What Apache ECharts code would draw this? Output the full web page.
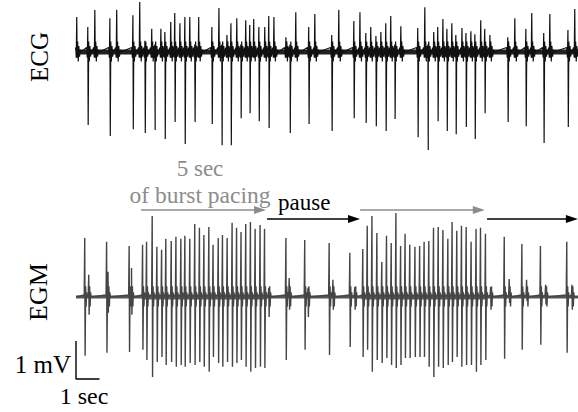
<!DOCTYPE html>
<html>
<head>
<meta charset="utf-8">
<script src="https://cdn.jsdelivr.net/npm/echarts@6/dist/echarts.min.js"></script>
<style>html,body{margin:0;padding:0;background:#fff;}#c{width:578px;height:412px;}</style>
</head>
<body>
<div id="c"></div>
<script>
// ---- Data (time in seconds, amplitude in mV) ----
const tMax = 21.36;

// ECG complexes: time, upward peak, downward trough (0 = no trough)
const ecgT = [0.04,0.51,0.81,1.45,1.74,2.43,2.72,2.94,3.23,3.36,3.62,3.79,4.04,4.21,4.43,4.64,4.85,5.06,5.23,5.79,6.09,6.21,6.43,6.60,6.85,7.02,7.23,7.40,7.57,7.79,8.04,8.21,8.43,8.94,9.11,9.36,9.91,10.17,10.89,11.19,11.83,12.09,12.34,12.55,12.77,12.98,13.19,13.40,13.57,13.83,14.55,14.85,14.98,15.23,15.40,15.62,15.79,16.00,16.17,16.43,16.60,16.81,16.98,17.23,17.40,17.62,18.38,18.68,19.15,19.40,19.91,20.17,20.94,21.23];
const ecgUp = [0.92,0.66,1.11,0.89,1.11,0.97,1.32,0.30,0.61,0.20,0.61,0.53,0.79,1.03,0.76,0.92,0.92,0.20,0.92,0.66,1.16,0.20,0.45,0.76,0.89,0.20,0.84,0.71,0.87,0.66,0.66,0.95,0.92,0.39,0.20,1.05,0.66,1.00,0.45,1.11,0.82,1.05,0.50,0.66,0.42,0.53,0.76,0.95,0.20,0.68,0.63,1.18,0.20,0.53,0.66,0.87,0.61,0.76,0.45,0.63,0.50,0.55,0.47,0.84,0.61,0.45,0.39,0.89,0.61,1.03,0.50,1.00,0.58,1.13];
const ecgDown = [0,-1.92,0,-2.21,0,-2.03,0,-2.13,0,-2.05,0,-2.29,0,-1.84,0,-2.42,0,-1.84,0,-1.89,0,-2.45,0,-2.45,0,-1.74,0,-1.61,0,-1.82,0,-2.00,0,0,-2.13,0,-1.89,0,-2.08,0,-1.74,0,-1.87,0,-1.95,0,-2.08,0,-1.76,0,-2.24,0,-2.58,0,-1.82,0,-2.08,0,-2.16,0,-1.97,0,-2.29,0,-1.61,0,-1.84,0,-1.95,0,-2.39,0,-1.97,0];

// EGM deflections: time, upward peak, downward trough
const egmT = [0.38,0.55,1.31,1.37,2.27,2.37,
  2.84,3.01,3.25,3.45,3.65,3.83,4.06,4.26,4.47,4.64,4.85,5.06,5.26,5.45,5.66,5.84,6.06,6.24,6.44,6.65,6.84,7.03,7.23,7.43,7.63,7.84,8.03,
  8.21,8.94,9.08,9.74,9.88,10.78,10.94,11.66,11.87,
  12.21,12.40,12.60,12.81,13.02,13.22,13.42,13.62,13.82,14.01,14.21,14.43,14.63,14.82,15.02,15.22,15.42,15.62,15.83,16.01,16.21,16.41,16.61,16.82,17.03,17.22,17.43,
  17.65,18.23,18.44,18.98,19.18,19.77,19.99,20.89,21.11];
const egmUp = [1.55,0.58,1.45,0.66,1.34,0.76,
  1.37,1.45,2.13,1.32,1.24,1.53,1.47,1.58,1.53,1.61,1.53,1.92,1.82,1.63,1.84,1.37,1.55,1.63,1.55,1.95,1.82,1.71,1.92,1.97,1.79,1.89,1.79,
  0.24,1.55,0.50,1.50,0.24,1.42,0.45,1.16,0.26,
  1.26,1.87,2.13,1.68,0.92,1.61,1.42,2.21,1.34,1.66,1.37,1.32,1.34,1.45,1.47,1.82,1.84,1.76,1.53,1.97,1.74,1.87,1.84,1.45,1.79,1.82,1.66,
  0.26,1.58,0.47,1.39,0.45,1.34,0.32,1.45,0.32];
const egmDown = [-1.55,-0.47,-1.47,-0.42,-1.45,-0.47,
  -1.39,-1.66,-2.11,-1.71,-1.58,-1.79,-1.71,-1.84,-1.79,-1.84,-1.74,-1.79,-1.71,-1.84,-1.97,-1.58,-1.74,-1.84,-1.71,-1.84,-1.74,-1.66,-1.84,-1.97,-1.87,-1.84,-1.87,
  -0.53,-1.66,-0.34,-1.39,-0.53,-1.53,-0.34,-1.32,-0.34,
  -1.58,-1.39,-1.97,-1.66,-1.74,-1.61,-1.79,-1.87,-1.79,-1.61,-1.61,-1.58,-1.58,-1.58,-1.84,-2.11,-1.84,-1.87,-1.79,-1.71,-1.58,-1.84,-1.79,-1.79,-1.97,-1.79,-1.66,
  -0.34,-1.63,-0.16,-1.39,-0.10,-1.26,-0.20,-1.47,-0.34];

// burst pacing windows (s) and annotation arrows [from, to] in seconds
const burstWindows = [[2.80, 8.10], [12.15, 17.50]];
const burstArrows = [[2.77, 8.09], [12.09, 17.40]];
const pauseArrows = [[8.13, 12.09], [17.49, 21.36]];
const scaleBar = { mV: 1, sec: 1 };

// waveform shapes around each deflection: [dt (s), value or U/D]
const ecgShape = [[-0.06,0.12],[-0.03,-0.15],[-0.008,'U'],[0.008,'D'],[0.03,0.28],[0.055,-0.25],[0.08,0.16],[0.11,-0.12],[0.14,0.06],[0.17,0]];
const egmShape = [[-0.03,0.05],[-0.008,'U'],[0.008,'D'],[0.03,0.28],[0.05,-0.25],[0.07,0.12],[0.09,0]];

function buildTrace(T, U, D, shape, fallback) {
  const pts = [[0, 0]];
  for (let i = 0; i < T.length; i++) {
    for (const [dt, v] of shape) {
      let val = v === 'U' ? U[i] : v === 'D' ? (D[i] || fallback) : v;
      pts.push([T[i] + dt, val]);
    }
  }
  pts.push([tMax, 0]);
  pts.sort((a, b) => a[0] - b[0]);
  return pts;
}

const ecgData = buildTrace(ecgT, ecgUp, ecgDown, ecgShape, -0.15);
const egmData = buildTrace(egmT, egmUp, egmDown, egmShape, -0.1);
const burstBand = [];
burstWindows.forEach((w, i) => { if (i) burstBand.push([w[0] - 0.5, '-']); burstBand.push([w[0], 0], [w[1], 0]); });

const arrowY1 = 2.29, arrowY2 = 2.05, headBack = 0.26;
const grey = '#8c8c8c';
const markData = [];
burstArrows.forEach(a => markData.push([{coord:[a[0], arrowY1], lineStyle:{color:grey}}, {coord:[a[1]-headBack, arrowY1]}]));
pauseArrows.forEach(a => markData.push([{coord:[a[0], arrowY2], lineStyle:{color:'#000'}}, {coord:[a[1]-headBack, arrowY2]}]));

const serif = '"Liberation Serif", "DejaVu Serif", serif';
const chart = echarts.init(document.getElementById('c'), null, {renderer: 'svg'});
chart.setOption({
  animation: false,
  backgroundColor: '#fff',
  grid: [
    {left: 76, right: 0, top: 0, height: 152},
    {left: 76, right: 0, top: 200, height: 190}
  ],
  xAxis: [
    {type: 'value', gridIndex: 0, min: 0, max: tMax, show: false},
    {type: 'value', gridIndex: 1, min: 0, max: tMax, show: false}
  ],
  yAxis: [
    {type: 'value', gridIndex: 0, min: -2.63, max: 1.37, show: false},
    {type: 'value', gridIndex: 1, min: -2.45, max: 2.55, show: false}
  ],
  series: [
    {type: 'line', xAxisIndex: 0, yAxisIndex: 0, data: [[0,0],[tMax,0]], showSymbol: false, lineStyle: {color: '#222', width: 5}, silent: true},
    {type: 'line', xAxisIndex: 0, yAxisIndex: 0, data: ecgData, showSymbol: false, sampling: null, lineStyle: {color: '#111', width: 1.2}, silent: true},
    {type: 'line', xAxisIndex: 1, yAxisIndex: 1, data: [[0,0],[tMax,0]], showSymbol: false, lineStyle: {color: '#555', width: 3}, silent: true},
    {type: 'line', xAxisIndex: 1, yAxisIndex: 1, data: burstBand, showSymbol: false, connectNulls: false, lineStyle: {color: '#5a5a5a', width: 5}, silent: true},
    {type: 'line', xAxisIndex: 1, yAxisIndex: 1, data: egmData, showSymbol: false, lineStyle: {color: '#454545', width: 1.4}, silent: true,
      markLine: {silent: true, symbol: ['none', 'triangle'], symbolSize: [8, 12], label: {show: false}, lineStyle: {type: 'solid', width: 1.6}, data: markData}},
    {type: 'line', xAxisIndex: 1, yAxisIndex: 1, clip: false, data: [[0, -1.16], [0, -1.16 - scaleBar.mV], [scaleBar.sec, -1.16 - scaleBar.mV]], showSymbol: false, lineStyle: {color: '#000', width: 1.4}, silent: true}
  ],
  graphic: [
    {type: 'text', x: 39, y: 57, rotation: Math.PI / 2, style: {text: 'ECG', font: '25px ' + serif, fill: '#000', textAlign: 'center', textVerticalAlign: 'middle'}},
    {type: 'text', x: 38, y: 292, rotation: Math.PI / 2, style: {text: 'EGM', font: '26px ' + serif, fill: '#000', textAlign: 'center', textVerticalAlign: 'middle'}},
    {type: 'text', x: 200, y: 168, style: {text: '5 sec', font: '23px ' + serif, fill: grey, textAlign: 'center', textVerticalAlign: 'middle'}},
    {type: 'text', x: 200, y: 195, style: {text: 'of burst pacing', font: '23.5px ' + serif, fill: grey, textAlign: 'center', textVerticalAlign: 'middle'}},
    {type: 'text', x: 278, y: 202, style: {text: 'pause', font: '23px ' + serif, fill: '#000', textAlign: 'left', textVerticalAlign: 'middle'}},
    {type: 'text', x: 71, y: 364, style: {text: '1 mV', font: '25px ' + serif, fill: '#000', textAlign: 'right', textVerticalAlign: 'middle'}},
    {type: 'text', x: 84, y: 396, style: {text: '1 sec', font: '24px ' + serif, fill: '#000', textAlign: 'center', textVerticalAlign: 'middle'}}
  ]
});
</script>
</body>
</html>
